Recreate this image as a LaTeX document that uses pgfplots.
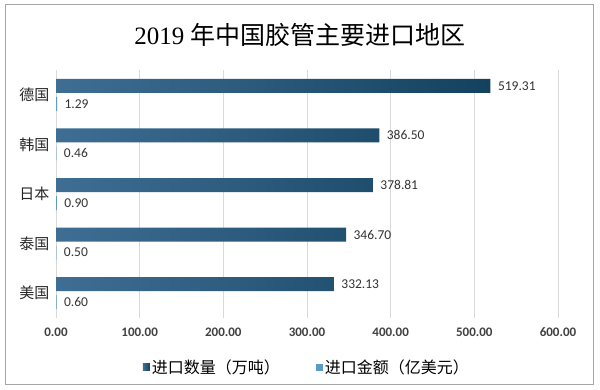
\documentclass[border=0pt]{standalone}
\usepackage{pgfplots}
\pgfplotsset{compat=1.18}
\usepackage{fontspec}
\setmainfont{Carlito}
\newfontfamily\cjk{Noto Sans CJK SC}
\newfontfamily\serif{Liberation Serif}
\definecolor{qdark}{HTML}{13425F}
\definecolor{qlight}{HTML}{3E6E94}
\definecolor{amt}{HTML}{5B9BC8}
\definecolor{gridc}{HTML}{D9D9D9}
\begin{document}
\begin{tikzpicture}
\fill[white] (0pt,0pt) rectangle (600pt,390pt);
\draw[gray!70, line width=1pt] (5pt,5pt) rectangle (593pt,385pt);
\node at (300pt,355pt) {\fontsize{25}{28}\selectfont\serif 2019 \cjk 年中国胶管主要进口地区};
\begin{axis}[
  at={(56pt,72pt)}, anchor=south west,
  scale only axis, width=502pt, height=248pt,
  xbar, bar width=14pt,
  xmin=0, xmax=600,
  ymin=-0.5, ymax=4.5, y dir=reverse,
  ytick={0,1,2,3,4},
  yticklabels={德国,韩国,日本,泰国,美国},
  yticklabel style={font=\cjk\fontsize{15}{17}\selectfont, xshift=-3pt, text=black!85},
  xtick={0,100,...,600},
  xticklabel style={font=\fontsize{13}{15}\selectfont\bfseries, text=black!75, yshift=-6pt},
  /pgf/number format/assume math mode=true,
  xticklabel={\pgfmathprintnumber[fixed,fixed zerofill,precision=2]{\tick}},
  xmajorgrids, grid style={gridc, line width=0.6pt},
  axis line style={draw=none},
  major tick length=0pt,
  nodes near coords,
  nodes near coords style={font=\fontsize{13.5}{15}\selectfont, text=black!80,
    /pgf/number format/fixed, /pgf/number format/fixed zerofill, /pgf/number format/precision=2},
  every node near coord/.append style={anchor=west, xshift=4pt},
  legend style={at={(0.5,-0.198)}, anchor=center, draw=none, legend columns=2,
    font=\cjk\fontsize{16}{18}\selectfont, /tikz/every even column/.append style={column sep=34pt}},
  legend image code/.code={\fill[#1] (0pt,-3.5pt) rectangle (7pt,3.5pt);},
  clip=false,
]
\addplot[draw=none, left color=qlight, right color=qdark, bar shift=9pt]
  coordinates {(519.31,0) (386.50,1) (378.81,2) (346.70,3) (332.13,4)};
\addlegendentry{进口数量（万吨）}
\addplot[draw=none, fill=amt, bar shift=-9pt]
  coordinates {(1.29,0) (0.46,1) (0.90,2) (0.50,3) (0.60,4)};
\addlegendentry{进口金额（亿美元）}
\end{axis}
\end{tikzpicture}
\end{document}
